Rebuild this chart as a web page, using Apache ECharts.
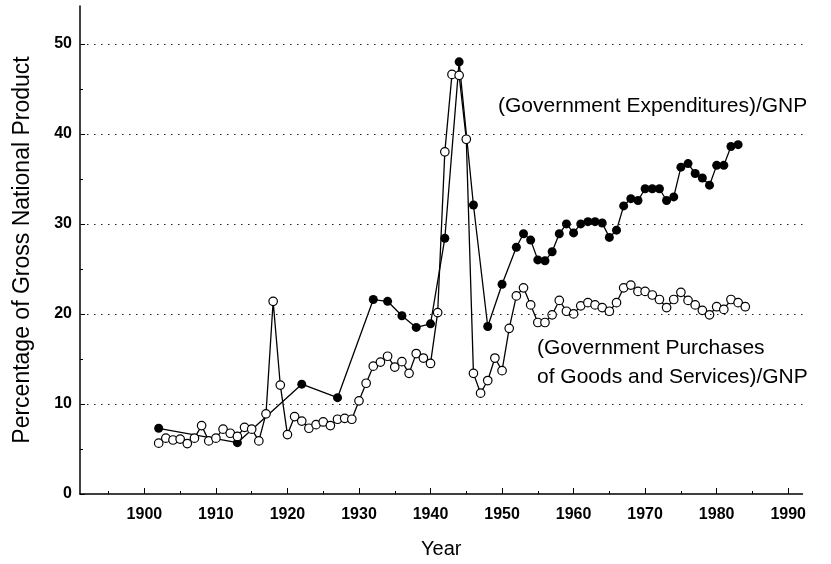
<!DOCTYPE html>
<html>
<head>
<meta charset="utf-8">
<script src="https://cdn.jsdelivr.net/npm/echarts@6/dist/echarts.min.js"></script>
<style>
  html, body { margin: 0; padding: 0; background: #fff; }
  #chart { width: 831px; height: 564px; }
</style>
</head>
<body>
<div id="chart"></div>
<script>
// (Government Expenditures)/GNP - filled dots
const expYears = [1902, 1913, 1922, 1927, 1932, 1934, 1936, 1938, 1940, 1942, 1944, 1946, 1948, 1950,
    1952, 1953, 1954, 1955, 1956, 1957, 1958, 1959, 1960, 1961, 1962, 1963, 1964, 1965, 1966, 1967,
    1968, 1969, 1970, 1971, 1972, 1973, 1974, 1975, 1976, 1977, 1978, 1979, 1980, 1981, 1982, 1983];
const expValues = [7.3, 5.7, 12.2, 10.7, 21.6, 21.4, 19.8, 18.5, 18.9, 28.4, 48.0, 32.1, 18.6, 23.3,
    27.4, 28.9, 28.2, 26.0, 25.9, 26.9, 28.9, 30.0, 29.0, 30.0, 30.25, 30.25, 30.1, 28.5, 29.3, 32.0,
    32.8, 32.6, 33.9, 33.9, 33.9, 32.6, 33.0, 36.3, 36.7, 35.6, 35.1, 34.3, 36.5, 36.5, 38.6, 38.8];

// (Government Purchases of Goods and Services)/GNP - open dots, one per year 1902..1984
const purFirstYear = 1902;
const purValues = [5.65, 6.2, 6.0, 6.1, 5.6, 6.2, 7.6, 5.9, 6.2, 7.2, 6.75, 6.4, 7.4, 7.2, 5.9, 8.9,
    21.4, 12.1, 6.6, 8.6, 8.1, 7.3, 7.7, 8.0, 7.6, 8.3, 8.4, 8.3, 10.35, 12.3, 14.2, 14.65, 15.3, 14.1,
    14.7, 13.4, 15.6, 15.1, 14.5, 20.15, 38.0, 46.6, 46.5, 39.4, 13.4, 11.2, 12.6, 15.1, 13.7, 18.4,
    22.0, 22.9, 21.0, 19.05, 19.05, 19.9, 21.5, 20.3, 20.0, 20.9, 21.25, 21.0, 20.7, 20.3, 21.25, 22.9,
    23.2, 22.5, 22.5, 22.1, 21.6, 20.7, 21.6, 22.4, 21.5, 21.0, 20.4, 19.9, 20.8, 20.5, 21.6, 21.25, 20.8];

const xLabels = [1900, 1910, 1920, 1930, 1940, 1950, 1960, 1970, 1980, 1990];
const xMinorTicks = [1895, 1905, 1915, 1925, 1935, 1945, 1955, 1965, 1975, 1985];
const yLabels = [0, 10, 20, 30, 40, 50];
const yMinorTicks = [5, 15, 25, 35, 45];
const gridValues = [10, 20, 30, 40, 50];

const expData = expYears.map((y, i) => [y, expValues[i]]);
const purData = purValues.map((v, i) => [purFirstYear + i, v]);

const FONT = 'Liberation Sans, Arial, sans-serif';

const chart = echarts.init(document.getElementById('chart'));

const option = {
    animation: false,
    backgroundColor: '#fff',
    grid: { left: 80, right: 28.5, top: 6, bottom: 66 },
    xAxis: [
        {
            type: 'value', min: 1891, max: 1992,
            name: 'Year', nameLocation: 'middle', nameGap: 45,
            nameTextStyle: { fontFamily: FONT, fontSize: 20, color: '#000' },
            axisLine: { show: true, lineStyle: { color: '#000', width: 1.5 } },
            axisTick: { show: true, inside: true, length: 6, customValues: xLabels, lineStyle: { color: '#000', width: 1 } },
            axisLabel: {
                customValues: xLabels, margin: 13,
                formatter: v => String(v),
                fontFamily: FONT, fontSize: 16, fontWeight: 'bold', color: '#000'
            },
            splitLine: { show: false }
        },
        {
            type: 'value', min: 1891, max: 1992, position: 'bottom',
            axisLine: { show: false },
            axisTick: { show: true, inside: true, length: 3, customValues: xMinorTicks, lineStyle: { color: '#000', width: 1 } },
            axisLabel: { show: false },
            splitLine: { show: false }
        }
    ],
    yAxis: [
        {
            type: 'value', min: 0, max: 54.2,
            name: 'Percentage of Gross National Product', nameLocation: 'middle', nameGap: 46,
            nameTextStyle: { fontFamily: FONT, fontSize: 23, color: '#000' },
            axisLine: { show: true, lineStyle: { color: '#000', width: 1.5 } },
            axisTick: { show: true, inside: true, length: 5, customValues: yLabels, lineStyle: { color: '#000', width: 1 } },
            axisLabel: {
                customValues: yLabels, margin: 8,
                fontFamily: FONT, fontSize: 16, fontWeight: 'bold', color: '#000'
            },
            splitLine: { show: false }
        },
        {
            type: 'value', min: 0, max: 54.2, position: 'left',
            axisLine: { show: false },
            axisTick: { show: true, inside: true, length: 3, customValues: yMinorTicks, lineStyle: { color: '#000', width: 1 } },
            axisLabel: { show: false },
            splitLine: { show: false }
        }
    ],
    graphic: [
        {
            type: 'text', left: 498, top: 96,
            style: { text: '(Government Expenditures)/GNP', fontFamily: FONT, fontSize: 21, fill: '#000' }
        },
        {
            type: 'text', left: 537, top: 338,
            style: { text: '(Government Purchases', fontFamily: FONT, fontSize: 21, fill: '#000' }
        },
        {
            type: 'text', left: 537, top: 367,
            style: { text: 'of Goods and Services)/GNP', fontFamily: FONT, fontSize: 21, fill: '#000' }
        }
    ],
    series: [
        {
            name: 'Expenditures',
            type: 'line',
            data: expData,
            symbol: 'circle',
            symbolSize: 9,
            itemStyle: { color: '#000' },
            lineStyle: { color: '#000', width: 1.3 },
            z: 3,
            markLine: {
                silent: true,
                symbol: ['none', 'none'],
                label: { show: false },
                lineStyle: { color: '#222', width: 1.2, type: [1.5, 5.5] },
                data: gridValues.map(v => ({ yAxis: v }))
            }
        },
        {
            name: 'Purchases',
            type: 'line',
            data: purData,
            symbol: 'circle',
            symbolSize: 8.5,
            itemStyle: { color: '#fff', borderColor: '#000', borderWidth: 1.2 },
            lineStyle: { color: '#000', width: 1.3 },
            z: 4
        }
    ]
};

chart.setOption(option);
</script>
</body>
</html>
